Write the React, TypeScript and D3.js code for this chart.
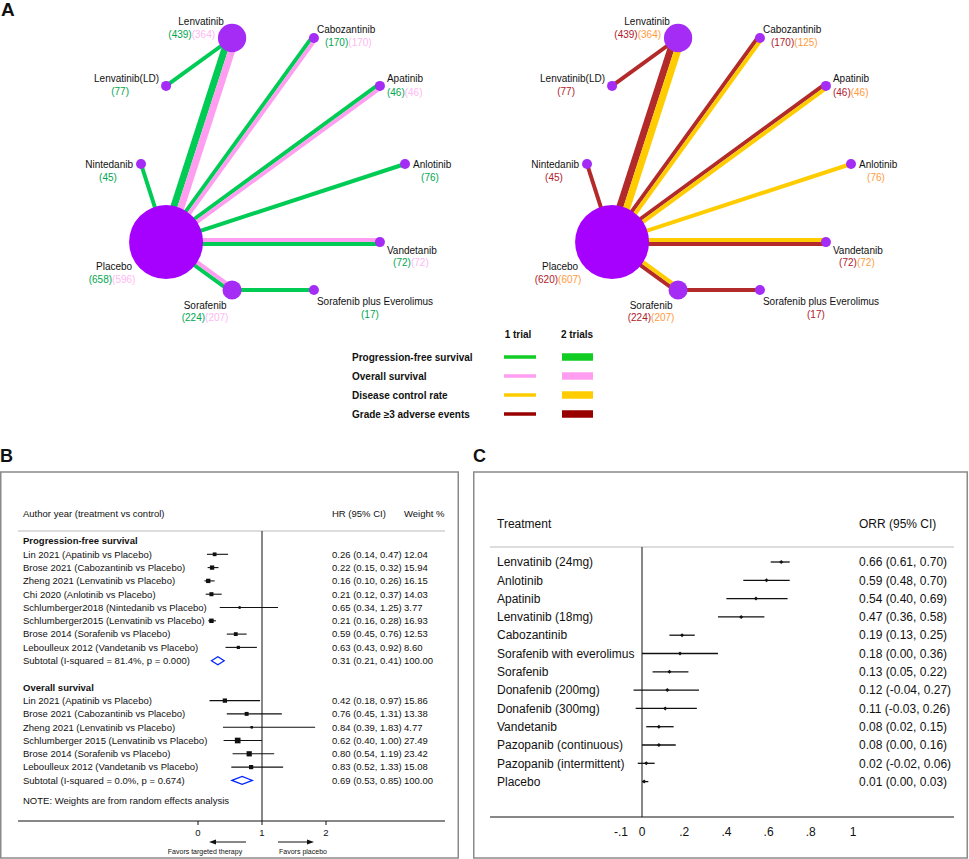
import * as d3 from 'd3';

// ---------- Panel A: network data ----------
const NODES = ['Placebo', 'Lenvatinib', 'Lenvatinib(LD)', 'Cabozantinib', 'Apatinib', 'Nintedanib', 'Anlotinib', 'Vandetanib', 'Sorafenib', 'Sorafenib plus Everolimus'];
// patients per node: [primary, secondary] outcome
const COUNTS_EFFICACY = [[658, 596], [439, 364], [77, null], [170, 170], [46, 46], [45, null], [76, null], [72, 72], [224, 207], [17, null]];
const COUNTS_SAFETY = [[620, 607], [439, 364], [77, null], [170, 125], [46, 46], [45, null], [null, 76], [72, 72], [224, 207], [17, null]];
// edge: from, to, trials PFS, OS, DCR, grade>=3 AE
const EDGES: [string, string, number, number, number, number][] = [
  ['Lenvatinib', 'Placebo', 2, 2, 2, 2],
  ['Lenvatinib', 'Lenvatinib(LD)', 1, 0, 0, 1],
  ['Cabozantinib', 'Placebo', 1, 1, 1, 1],
  ['Apatinib', 'Placebo', 1, 1, 1, 1],
  ['Anlotinib', 'Placebo', 1, 0, 1, 0],
  ['Nintedanib', 'Placebo', 1, 0, 0, 1],
  ['Placebo', 'Vandetanib', 1, 1, 1, 1],
  ['Placebo', 'Sorafenib', 1, 1, 1, 1],
  ['Sorafenib', 'Sorafenib plus Everolimus', 1, 0, 0, 1],
];
const LEGEND_ITEMS = ['Progression-free survival', 'Overall survival', 'Disease control rate', 'Grade ≥3 adverse events'];

// ---------- Panel B: forest plot (HR) ----------
const PFS_STUDIES = ['Lin 2021 (Apatinib vs Placebo)', 'Brose 2021 (Cabozantinib vs Placebo)', 'Zheng 2021 (Lenvatinib vs Placebo)', 'Chi 2020 (Anlotinib vs Placebo)', 'Schlumberger2018 (Nintedanib vs Placebo)', 'Schlumberger2015 (Lenvatinib vs Placebo)', 'Brose 2014 (Sorafenib vs Placebo)', 'Leboulleux 2012 (Vandetanib vs Placebo)'];
const PFS_HR = [0.26, 0.22, 0.16, 0.21, 0.65, 0.21, 0.59, 0.63];
const PFS_LO = [0.14, 0.15, 0.10, 0.12, 0.34, 0.16, 0.45, 0.43];
const PFS_HI = [0.47, 0.32, 0.26, 0.37, 1.25, 0.28, 0.76, 0.92];
const PFS_W = [12.04, 15.94, 16.15, 14.03, 3.77, 16.93, 12.53, 8.60];
const PFS_SUB = { label: 'Subtotal  (I-squared = 81.4%, p = 0.000)', hr: 0.31, lo: 0.21, hi: 0.41 };

const OS_STUDIES = ['Lin 2021 (Apatinib vs Placebo)', 'Brose 2021 (Cabozantinib vs Placebo)', 'Zheng 2021 (Lenvatinib vs Placebo)', 'Schlumberger 2015 (Lenvatinib vs Placebo)', 'Brose 2014 (Sorafenib vs Placebo)', 'Leboulleux 2012 (Vandetanib vs Placebo)'];
const OS_HR = [0.42, 0.76, 0.84, 0.62, 0.80, 0.83];
const OS_LO = [0.18, 0.45, 0.39, 0.40, 0.54, 0.52];
const OS_HI = [0.97, 1.31, 1.83, 1.00, 1.19, 1.33];
const OS_W = [15.86, 13.38, 4.77, 27.49, 23.42, 15.08];
const OS_SUB = { label: 'Subtotal  (I-squared = 0.0%, p = 0.674)', hr: 0.69, lo: 0.53, hi: 0.85 };
const B_TICKS = [0, 1, 2];

// ---------- Panel C: ORR ----------
const TREATMENTS = ['Lenvatinib (24mg)', 'Anlotinib', 'Apatinib', 'Lenvatinib (18mg)', 'Cabozantinib', 'Sorafenib with everolimus', 'Sorafenib', 'Donafenib (200mg)', 'Donafenib (300mg)', 'Vandetanib', 'Pazopanib (continuous)', 'Pazopanib (intermittent)', 'Placebo'];
const ORR = [0.66, 0.59, 0.54, 0.47, 0.19, 0.18, 0.13, 0.12, 0.11, 0.08, 0.08, 0.02, 0.01];
const ORR_LO = [0.61, 0.48, 0.40, 0.36, 0.13, 0.00, 0.05, -0.04, -0.03, 0.02, 0.00, -0.02, 0.00];
const ORR_HI = [0.70, 0.70, 0.69, 0.58, 0.25, 0.36, 0.22, 0.27, 0.26, 0.15, 0.16, 0.06, 0.03];
const C_TICKS = [-0.1, 0, 0.2, 0.4, 0.6, 0.8, 1];

// layout of the network (fractions of the plot area) and label offsets
const LAYOUT: Record<string, { gx: number; gy: number; na: string; ndx: number; ndy: number; ca: string; cdx: number; cdy: number }> = {
  'Placebo': { gx: 0.095, gy: 0.81, na: 'middle', ndx: -52, ndy: 24, ca: 'middle', cdx: -54, cdy: 37 },
  'Lenvatinib': { gx: 0.345, gy: 0, na: 'middle', ndx: -31, ndy: -17, ca: 'end', cdx: -17, cdy: -4 },
  'Lenvatinib(LD)': { gx: 0.095, gy: 0.19, na: 'end', ndx: -7, ndy: -7, ca: 'middle', cdx: -46, cdy: 6 },
  'Cabozantinib': { gx: 0.655, gy: 0, na: 'start', ndx: 3, ndy: -9, ca: 'start', cdx: 11, cdy: 4 },
  'Apatinib': { gx: 0.905, gy: 0.19, na: 'start', ndx: 7, ndy: -7, ca: 'start', cdx: 7, cdy: 7 },
  'Nintedanib': { gx: 0, gy: 0.5, na: 'end', ndx: -8, ndy: 0, ca: 'middle', cdx: -33, cdy: 13 },
  'Anlotinib': { gx: 1, gy: 0.5, na: 'start', ndx: 8, ndy: 0, ca: 'middle', cdx: 25, cdy: 13 },
  'Vandetanib': { gx: 0.905, gy: 0.81, na: 'start', ndx: 7, ndy: 8, ca: 'middle', cdx: 31, cdy: 20 },
  'Sorafenib': { gx: 0.345, gy: 1, na: 'middle', ndx: -27, ndy: 15, ca: 'middle', cdx: -27, cdy: 27 },
  'Sorafenib plus Everolimus': { gx: 0.655, gy: 1, na: 'start', ndx: 3, ndy: 11, ca: 'middle', cdx: 56, cdy: 24 },
};

const FONT = "'Liberation Sans', Arial, Helvetica, sans-serif";
const fmt2 = (v: number) => d3.format('.2f')(v).replace('\u2212', '-');

function Network({ ox, idx, colors, countColors, counts }: { ox: number; idx: [number, number]; colors: [string, string]; countColors: [string, string]; counts: (number | null)[][] }) {
  const x = d3.scaleLinear().domain([0, 1]).range([141 + ox, 405 + ox]);
  const y = d3.scaleLinear().domain([0, 1]).range([38, 290]);
  const width = d3.scaleLinear().domain([1, 2]).range([4, 7]);
  const trials = new Map<string, number>(NODES.map(n => [n, 0]));
  EDGES.forEach(e => {
    const m = Math.max(e[2], e[3], e[4], e[5]);
    trials.set(e[0], trials.get(e[0])! + m);
    trials.set(e[1], trials.get(e[1])! + m);
  });
  const r = d3.scaleLinear().domain([1, 8]).range([5, 37]);
  const pos = (n: string) => [x(LAYOUT[n].gx), y(LAYOUT[n].gy)];

  return (
    <g>
      {EDGES.map((e, i) => {
        const [x1, y1] = pos(e[0]);
        const [x2, y2] = pos(e[1]);
        const len = Math.hypot(x2 - x1, y2 - y1);
        const nx = -(y2 - y1) / len, ny = (x2 - x1) / len;
        const lines = [
          { t: e[2 + idx[0]], c: colors[0] },
          { t: e[2 + idx[1]], c: colors[1] },
        ].filter(l => l.t > 0);
        const offs = lines.length === 2 ? [width(lines[0].t) / 2, -width(lines[1].t) / 2] : [0];
        return lines.map((l, j) => (
          <line key={`${i}-${j}`}
            x1={x1 + nx * offs[j]} y1={y1 + ny * offs[j]}
            x2={x2 + nx * offs[j]} y2={y2 + ny * offs[j]}
            stroke={l.c} strokeWidth={width(l.t)} />
        ));
      })}
      {NODES.map(n => {
        const [cx, cy] = pos(n);
        return <circle key={n} cx={cx} cy={cy} r={r(trials.get(n)!)} fill={n === 'Placebo' ? '#a600ff' : '#a52cf5'} />;
      })}
      {NODES.map((n, i) => {
        const [cx, cy] = pos(n);
        const L = LAYOUT[n];
        const c = counts[i];
        return (
          <g key={n} fontSize={10}>
            <text x={cx + L.ndx} y={cy + L.ndy} dy="0.35em" textAnchor={L.na} fill="#111">{n}</text>
            <text x={cx + L.cdx} y={cy + L.cdy} dy="0.35em" textAnchor={L.ca}>
              {c[0] != null && <tspan fill={countColors[0]}>({c[0]})</tspan>}
              {c[1] != null && <tspan fill={countColors[1]}>({c[1]})</tspan>}
            </text>
          </g>
        );
      })}
    </g>
  );
}

function Legend() {
  const rowY = d3.scalePoint<string>().domain(LEGEND_ITEMS).range([357, 414]);
  const colors = [['#11cc22', '#11cc22'], ['#ff9ef0', '#ff9ef0'], ['#ffcc00', '#ffcc00'], ['#990000', '#990000']];
  return (
    <g fontSize={10} fontWeight="bold" fill="#111">
      <text x={518} y={334} dy="0.35em" textAnchor="middle">1 trial</text>
      <text x={577} y={334} dy="0.35em" textAnchor="middle">2 trials</text>
      {LEGEND_ITEMS.map((d, i) => (
        <g key={d}>
          <text x={352} y={rowY(d)!} dy="0.35em">{d}</text>
          <line x1={504} x2={536} y1={rowY(d)!} y2={rowY(d)!} stroke={colors[i][0]} strokeWidth={3.5} />
          <line x1={562} x2={593} y1={rowY(d)!} y2={rowY(d)!} stroke={colors[i][1]} strokeWidth={7.5} />
        </g>
      ))}
    </g>
  );
}

function PanelB() {
  const x = d3.scaleLinear().domain([0, 2]).range([198, 326]);
  const row = d3.scaleLinear().domain([0, 1]).range([541, 554.3]);
  const side = d3.scaleSqrt().domain([0, 100]).range([0, 10.8]);
  const studies = [
    ...PFS_STUDIES.map((s, i) => ({ s, hr: PFS_HR[i], lo: PFS_LO[i], hi: PFS_HI[i], w: PFS_W[i], r: 1 + i })),
    ...OS_STUDIES.map((s, i) => ({ s, hr: OS_HR[i], lo: OS_LO[i], hi: OS_HI[i], w: OS_W[i], r: 12 + i })),
  ];
  const subs = [{ ...PFS_SUB, r: 9 }, { ...OS_SUB, r: 18 }];
  return (
    <g fontSize={9.5} fill="#111">
      <rect x={0.75} y={472} width={457.5} height={386} fill="none" stroke="#8a8a8a" strokeWidth={1.5} />
      <text x={23} y={514} dy="0.35em">Author year (treatment vs control)</text>
      <text x={332} y={514} dy="0.35em">HR (95% CI)</text>
      <text x={404} y={514} dy="0.35em">Weight %</text>
      <line x1={18} x2={445} y1={531} y2={531} stroke="#bbb" />
      <line x1={x(1)} x2={x(1)} y1={531} y2={821} stroke="#111" />
      <text x={23} y={row(0)} dy="0.35em" fontWeight="bold">Progression-free survival</text>
      <text x={23} y={row(11)} dy="0.35em" fontWeight="bold">Overall survival</text>
      {studies.map(d => (
        <g key={d.r}>
          <text x={23} y={row(d.r)} dy="0.35em">{d.s}</text>
          <line x1={x(d.lo)} x2={x(d.hi)} y1={row(d.r)} y2={row(d.r)} stroke="#111" strokeWidth={1.1} />
          <rect x={x(d.hr) - side(d.w) / 2} y={row(d.r) - side(d.w) / 2} width={side(d.w)} height={side(d.w)} fill="#111" />
          <circle cx={x(d.hr)} cy={row(d.r)} r={1.2} fill="#111" />
          <text x={332} y={row(d.r)} dy="0.35em">{`${fmt2(d.hr)} (${fmt2(d.lo)}, ${fmt2(d.hi)})`}</text>
          <text x={404} y={row(d.r)} dy="0.35em">{fmt2(d.w)}</text>
        </g>
      ))}
      {subs.map(d => (
        <g key={d.r}>
          <text x={23} y={row(d.r)} dy="0.35em">{d.label}</text>
          <polygon points={`${x(d.lo)},${row(d.r)} ${x(d.hr)},${row(d.r) - 4} ${x(d.hi)},${row(d.r)} ${x(d.hr)},${row(d.r) + 4}`} fill="#fff" stroke="#0022ff" strokeWidth={1.2} />
          <text x={332} y={row(d.r)} dy="0.35em">{`${fmt2(d.hr)} (${fmt2(d.lo)}, ${fmt2(d.hi)})`}</text>
          <text x={404} y={row(d.r)} dy="0.35em">100.00</text>
        </g>
      ))}
      <text x={23} y={row(19.5)} dy="0.35em">NOTE: Weights are from random effects analysis</text>
      <line x1={18} x2={445} y1={821} y2={821} stroke="#111" />
      {B_TICKS.map(t => (
        <g key={t}>
          <line x1={x(t)} x2={x(t)} y1={821} y2={825} stroke="#111" />
          <text x={x(t)} y={833} dy="0.35em" textAnchor="middle">{t}</text>
        </g>
      ))}
      <line x1={246} x2={213} y1={842} y2={842} stroke="#111" />
      <path d="M209,842 L216,839.5 L216,844.5 Z" fill="#111" />
      <line x1={278} x2={310} y1={842} y2={842} stroke="#111" />
      <path d="M314,842 L307,839.5 L307,844.5 Z" fill="#111" />
      <text x={205} y={852} dy="0.35em" textAnchor="middle" fontSize={7}>Favors targeted therapy</text>
      <text x={303} y={852} dy="0.35em" textAnchor="middle" fontSize={7}>Favors placebo</text>
    </g>
  );
}

function PanelC() {
  const x = d3.scaleLinear().domain([0, 1]).range([642, 853]);
  const y = d3.scalePoint<string>().domain(TREATMENTS).range([562, 781.6]);
  const tickFmt = (t: number) => (t === 0 ? '0' : t === 1 ? '1' : fmt2(t).slice(0, -1).replace('0.', '.'));
  return (
    <g fontSize={12} fill="#111">
      <rect x={473.75} y={472} width={493.5} height={386} fill="none" stroke="#8a8a8a" strokeWidth={1.5} />
      <text x={497} y={524} dy="0.35em">Treatment</text>
      <text x={859} y={524} dy="0.35em">ORR (95% CI)</text>
      <line x1={490} x2={954} y1={547} y2={547} stroke="#bbb" />
      <line x1={x(0)} x2={x(0)} y1={547} y2={817} stroke="#111" />
      {TREATMENTS.map((t, i) => (
        <g key={t}>
          <text x={497} y={y(t)!} dy="0.35em">{t}</text>
          <line x1={x(ORR_LO[i])} x2={x(ORR_HI[i])} y1={y(t)!} y2={y(t)!} stroke="#111" strokeWidth={1.3} />
          <path d={`M${x(ORR[i]) - 2},${y(t)!} L${x(ORR[i])},${y(t)! - 2} L${x(ORR[i]) + 2},${y(t)!} L${x(ORR[i])},${y(t)! + 2} Z`} fill="#111" />
          <text x={859} y={y(t)!} dy="0.35em">{`${fmt2(ORR[i])} (${fmt2(ORR_LO[i])}, ${fmt2(ORR_HI[i])})`}</text>
        </g>
      ))}
      <line x1={490} x2={954} y1={817} y2={817} stroke="#111" />
      {C_TICKS.map(t => (
        <text key={t} x={x(t)} y={832} dy="0.35em" textAnchor="middle">{tickFmt(t)}</text>
      ))}
    </g>
  );
}

export default function App() {
  return (
    <svg width={969} height={859} fontFamily={FONT} style={{ position: 'absolute', left: 0, top: 0, background: '#fff' }}>
      <rect width={969} height={859} fill="#fff" />
      <text x={1} y={16} fontSize={19} fontWeight="bold" fill="#111">A</text>
      <Network ox={0} idx={[0, 1]} colors={['#00cc55', '#ff9ef0']} countColors={['#00a650', '#ffb8f2']} counts={COUNTS_EFFICACY} />
      <Network ox={446} idx={[3, 2]} colors={['#b22a2a', '#ffcc00']} countColors={['#b0202a', '#ff9a3c']} counts={COUNTS_SAFETY} />
      <Legend />
      <text x={0} y={462} fontSize={18} fontWeight="bold" fill="#111">B</text>
      <text x={473} y={462} fontSize={18} fontWeight="bold" fill="#111">C</text>
      <PanelB />
      <PanelC />
    </svg>
  );
}
